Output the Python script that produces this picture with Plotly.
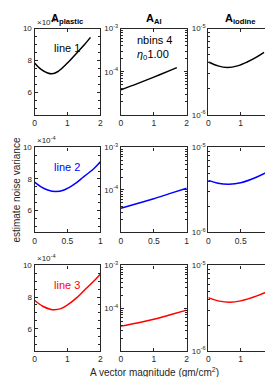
import plotly.graph_objects as go

W, H = 273, 377

# ---- data ----
col_titles = ["A<sub>plastic</sub>", "A<sub>Al</sub>", "A<sub>iodine</sub>"]
line_names = ["line 1", "line 2", "line 3"]
line_colors = ["black", "blue", "red"]

# row 1 (black)
r1_plastic_x = [0, 0.2, 0.4, 0.53, 0.7, 1.0, 1.25, 1.5, 1.7]
r1_plastic_y = [7.85e-4, 7.45e-4, 7.22e-4, 7.17e-4, 7.3e-4, 7.85e-4, 8.4e-4, 8.95e-4, 9.45e-4]
r1_al_x = [0, 0.5, 1.0, 1.5, 1.7]
r1_al_y = [3.8e-5, 5.3e-5, 7.5e-5, 1.08e-4, 1.25e-4]
r1_iod_x = [0, 0.3, 0.59, 0.9, 1.2, 1.5, 1.72]
r1_iod_y = [4.1e-6, 3.7e-6, 3.55e-6, 3.7e-6, 4.1e-6, 4.7e-6, 5.3e-6]

# row 2 (blue)
r2_plastic_x = [0, 0.1, 0.2, 0.32, 0.45, 0.6, 0.75, 0.9, 1.0]
r2_plastic_y = [7.8e-4, 7.5e-4, 7.3e-4, 7.2e-4, 7.3e-4, 7.65e-4, 8.15e-4, 8.65e-4, 9.1e-4]
r2_al_x = [0, 0.25, 0.5, 0.75, 1.0]
r2_al_y = [3.7e-5, 4.8e-5, 6.2e-5, 8.3e-5, 1.1e-4]
r2_iod_x = [0, 0.15, 0.32, 0.5, 0.75, 1.0]
r2_iod_y = [4.1e-6, 3.8e-6, 3.7e-6, 3.85e-6, 4.5e-6, 5.6e-6]

# row 3 (red)
r3_plastic_x = [0, 0.25, 0.5, 0.6, 0.8, 1.0, 1.25, 1.5, 1.75, 2.0]
r3_plastic_y = [7.8e-4, 7.42e-4, 7.22e-4, 7.2e-4, 7.27e-4, 7.5e-4, 7.9e-4, 8.4e-4, 8.9e-4, 9.45e-4]
r3_al_x = [0, 0.5, 1.0, 1.5, 2.0]
r3_al_y = [3.8e-5, 4.5e-5, 5.5e-5, 7.0e-5, 9.0e-5]
r3_iod_x = [0, 0.3, 0.67, 1.0, 1.5, 2.0]
r3_iod_y = [4.2e-6, 3.85e-6, 3.7e-6, 3.85e-6, 4.4e-6, 5.3e-6]

series = [
    [(r1_plastic_x, r1_plastic_y), (r1_al_x, r1_al_y), (r1_iod_x, r1_iod_y)],
    [(r2_plastic_x, r2_plastic_y), (r2_al_x, r2_al_y), (r2_iod_x, r2_iod_y)],
    [(r3_plastic_x, r3_plastic_y), (r3_al_x, r3_al_y), (r3_iod_x, r3_iod_y)],
]

row_xmax = [2, 1, 2]
row_xticks = [[0, 1, 2], [0, 0.5, 1], [0, 1, 2]]
row_xticktext = [["0", "1", "2"], ["0", "0.5", "1"], ["0", "1", "2"]]

lin_ticks = [6e-4, 8e-4, 10e-4]
lin_ticktext = ["6", "8", "10"]
al_ticks = [1e-4, 1e-3]
al_ticktext = ["10<sup>-4</sup>", "10<sup>-3</sup>"]
iod_ticks = [1e-6, 1e-5]
iod_ticktext = ["10<sup>-6</sup>", "10<sup>-5</sup>"]

# ---- layout geometry (pixels) ----
col_px = [(25, 92), (113, 180), (202, 268)]
row_px = [(15, 104), (137.5, 225), (259, 347)]

FONT = "Liberation Sans, Arial, sans-serif"
TICKC = "#262626"

fig = go.Figure()
layout = dict(
    width=W, height=H, margin=dict(l=0, r=0, t=0, b=0),
    paper_bgcolor="white", plot_bgcolor="white", showlegend=False,
    font=dict(family=FONT, size=9, color=TICKC),
)
annotations = []

def logminor(lo_exp, hi_exp):
    vals = []
    for e in range(lo_exp, hi_exp):
        for m in range(2, 10):
            vals.append(m * 10 ** e)
    return vals

for r in range(3):
    for c in range(3):
        idx = r * 3 + c + 1
        xa = "xaxis" if idx == 1 else f"xaxis{idx}"
        ya = "yaxis" if idx == 1 else f"yaxis{idx}"
        xref = "x" if idx == 1 else f"x{idx}"
        yref = "y" if idx == 1 else f"y{idx}"
        xs, ys = series[r][c]
        fig.add_trace(go.Scatter(x=xs, y=ys, mode="lines", line=dict(color=line_colors[r], width=1.5, shape="spline"),
                                 xaxis=xref, yaxis=yref, hoverinfo="skip"))
        x0, x1 = col_px[c]
        y0, y1 = row_px[r]
        layout[xa] = dict(
            domain=[x0 / W, x1 / W], anchor=yref, range=[0, row_xmax[r]],
            tickvals=row_xticks[r], ticktext=row_xticktext[r],
            ticks="inside", ticklen=3, tickwidth=0.8, tickcolor="#262626",
            showline=True, linecolor="#262626", linewidth=1.2, mirror="ticks",
            showgrid=False, zeroline=False, tickfont=dict(size=8.5, color=TICKC),
        )
        ydom = [(H - y1) / H, (H - y0) / H]
        if c == 0:
            layout[ya] = dict(
                domain=ydom, anchor=xref, range=[4.6e-4, 10e-4],
                tickvals=lin_ticks, ticktext=lin_ticktext,
                minor=dict(tickvals=[5e-4, 5.5e-4, 6.5e-4, 7e-4, 7.5e-4, 8.5e-4, 9e-4, 9.5e-4],
                           ticks="inside", ticklen=2, tickcolor="#262626"),
            )
            annotations.append(dict(text="×10<sup>-4</sup>", x=x0 / W + 0.003, y=(H - y0) / H, xref="paper", yref="paper",
                                    xanchor="left", yanchor="bottom", showarrow=False,
                                    font=dict(size=8, color=TICKC, family=FONT)))
            annotations.append(dict(text=line_names[r], x=(x0 + x1) / 2 / W, y=(H - (y0 + 20)) / H,
                                    xref="paper", yref="paper", xanchor="center", yanchor="middle",
                                    showarrow=False, font=dict(size=11, color=line_colors[r], family=FONT)))
        elif c == 1:
            layout[ya] = dict(
                domain=ydom, anchor=xref, type="log", range=[-5, -3],
                tickvals=al_ticks, ticktext=al_ticktext,
                minor=dict(tickvals=logminor(-5, -3), ticks="inside", ticklen=2, tickcolor="#262626"),
            )
        else:
            layout[ya] = dict(
                domain=ydom, anchor=xref, type="log", range=[-6, -5],
                tickvals=iod_ticks, ticktext=iod_ticktext,
                minor=dict(tickvals=logminor(-6, -5), ticks="inside", ticklen=2, tickcolor="#262626"),
            )
        layout[ya].update(
            ticks="inside", ticklen=3, tickwidth=0.8, tickcolor="#262626",
            showline=True, linecolor="#262626", linewidth=1.2, mirror="ticks",
            showgrid=False, zeroline=False, tickfont=dict(size=8, color=TICKC),
        )
        if r == 0:
            annotations.append(dict(text="<b>" + col_titles[c] + "</b>", x=(x0 + x1) / 2 / W, y=(H - y0 + 1) / H,
                                    xref="paper", yref="paper", xanchor="center", yanchor="bottom",
                                    showarrow=False, font=dict(size=11, color="black", family=FONT)))

# nbins / eta annotations in A_Al top panel
annotations.append(dict(text="nbins 4", x=147 / W, y=(H - 27) / H, xref="paper", yref="paper",
                        xanchor="center", yanchor="middle", showarrow=False,
                        font=dict(size=11, color="black", family=FONT)))
annotations.append(dict(text="<i>η</i><sub>0</sub>1.00", x=146 / W, y=(H - 42) / H, xref="paper", yref="paper",
                        xanchor="center", yanchor="middle", showarrow=False,
                        font=dict(size=11, color="black", family=FONT)))
annotations.append(dict(text="estimate noise variance", x=7 / W, y=(H - 181) / H, xref="paper", yref="paper",
                        xanchor="center", yanchor="middle", textangle=-90, showarrow=False,
                        font=dict(size=10, color=TICKC, family=FONT)))
annotations.append(dict(text="A vector magnitude (gm/cm<sup>2</sup>)", x=147 / W, y=(H - 369) / H,
                        xref="paper", yref="paper", xanchor="center", yanchor="middle", showarrow=False,
                        font=dict(size=10, color=TICKC, family=FONT)))

layout["annotations"] = annotations
fig.update_layout(**layout)
fig.write_html("out.html")
